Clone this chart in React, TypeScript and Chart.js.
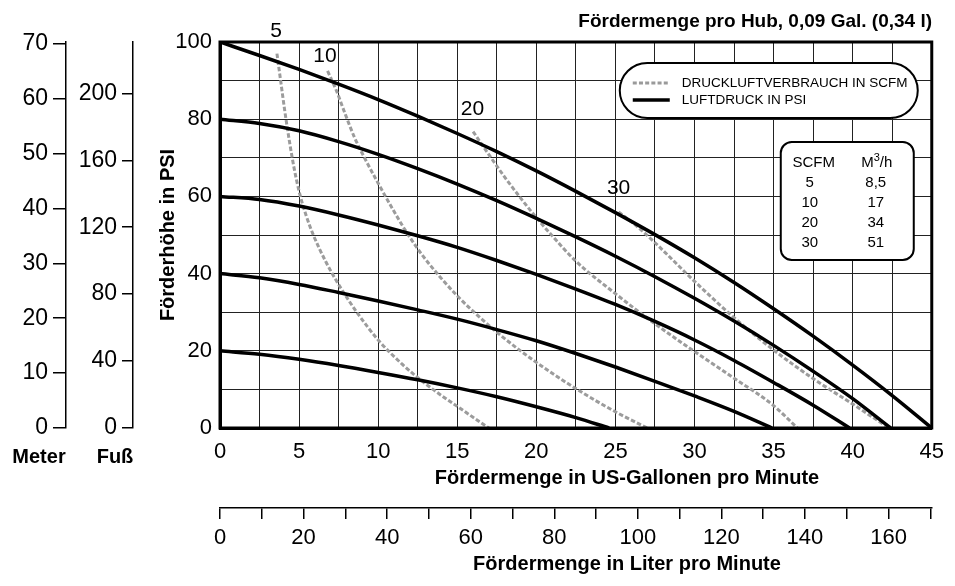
import React, { useEffect, useRef } from 'react';
import { Chart, registerables } from 'chart.js';

Chart.register(...registerables);

const SANS = '"Liberation Sans", Arial, Helvetica, sans-serif';
const NARROW = '"Liberation Sans Narrow", "Arial Narrow", "Liberation Sans", Arial, sans-serif';

// ---- Data: [gpm, psi] pairs ----
const psi100: number[][] = [[0, 100], [2.5, 96.5], [5, 92.9], [7.5, 89.1], [10, 85.1], [12.5, 80.8], [15, 76.3], [17.5, 71.6], [20, 66.6], [22.5, 61.3], [25, 55.8], [27.5, 50.1], [30, 44.1], [32.5, 37.7], [35, 30.9], [37.5, 23.8], [40, 16.3], [42.5, 8.4], [45, 0]];
const psi80: number[][] = [[0, 80], [2.5, 78.9], [5, 77], [7.5, 74.2], [10, 70.9], [12.5, 67.2], [15, 63.2], [17.5, 58.9], [20, 54.3], [22.5, 49.5], [25, 44.5], [27.5, 39.2], [30, 33.6], [32.5, 27.7], [35, 21.4], [37.5, 14.7], [40, 7.6], [42.4, 0]];
const psi60: number[][] = [[0, 60], [2.5, 59.2], [5, 57.5], [7.5, 55.2], [10, 52.6], [12.5, 49.8], [15, 46.8], [17.5, 43.4], [20, 39.8], [22.5, 36], [25, 32], [27.5, 27.6], [30, 22.8], [32.5, 17.5], [35, 11.8], [37.5, 5.9], [39.8, 0]];
const psi40: number[][] = [[0, 40], [2.5, 38.9], [5, 37.2], [7.5, 35.1], [10, 32.9], [12.5, 30.6], [15, 28.2], [17.5, 25.5], [20, 22.6], [22.5, 19.3], [25, 15.8], [27.5, 12.1], [30, 8.3], [32.5, 4.3], [34.9, 0]];
const psi20: number[][] = [[0, 20], [2.5, 19.1], [5, 17.8], [7.5, 16.2], [10, 14.4], [12.5, 12.5], [15, 10.4], [17.5, 8.1], [20, 5.5], [22.5, 2.7], [24.6, 0]];

const scfm5: number[][] = [[3.6, 97], [3.85, 89.5], [4.1, 82], [4.4, 74], [4.7, 67], [5.05, 60.5], [5.45, 55], [5.9, 50], [6.7, 43], [7.6, 36.5], [8.7, 29.7], [10, 22.8], [11.5, 16.6], [13.2, 10.8], [15, 5.6], [17, 0]];
const scfm10: number[][] = [[6.8, 92.5], [7.35, 87.5], [7.9, 81.5], [8.5, 75.3], [9.2, 69.5], [10, 63.4], [10.85, 57.2], [11.75, 51], [12.75, 45], [13.9, 39.2], [15.1, 33.8], [16.2, 29.5], [17.5, 24.8], [20, 17], [22.5, 10.2], [25, 4.2], [27, 0]];
const scfm20: number[][] = [[16, 76.8], [17, 70.8], [18, 65], [19, 59.6], [20, 54.5], [21, 49.8], [22.5, 43.2], [25, 34.8], [27.5, 27], [30, 19.8], [32.5, 12.9], [35, 5.8], [36.5, 0]];
const scfm30: number[][] = [[25.2, 56], [26.2, 52.8], [27.5, 48], [30, 38], [32.5, 28.6], [35, 20.2], [37.5, 12.8], [40, 6.2], [42.3, 0]];

const pressureCurves = [psi100, psi80, psi60, psi40, psi20];
const pressureNames = ['100 PSI', '80 PSI', '60 PSI', '40 PSI', '20 PSI'];
const airCurves = [scfm5, scfm10, scfm20, scfm30];
const airNames = ['5 SCFM', '10 SCFM', '20 SCFM', '30 SCFM'];

// curve labels (SCFM) in data coordinates
const scfmCurveLabels = ['5', '10', '20', '30'];
const scfmLabelGpm = [3.54, 6.64, 15.96, 25.2];
const scfmLabelPsi = [102.8, 96.4, 82.6, 62.2];

// table
const tableScfm = ['5', '10', '20', '30'];
const tableM3h = ['8,5', '17', '34', '51'];

// axes
const gpmMax = 45;
const psiMax = 100;
const GAL_TO_L = 3.78541;
const PSI_TO_M = 0.70307;
const PSI_TO_FT = 2.30666;

const chartTitle = 'Fördermenge pro Hub, 0,09 Gal. (0,34 l)';
const xTitle = 'Fördermenge in US-Gallonen pro Minute';
const literTitle = 'Fördermenge in Liter pro Minute';
const yTitle = 'Förderhöhe in PSI';
const meterLabel = 'Meter';
const feetLabel = 'Fuß';
const legendLabels = ['DRUCKLUFTVERBRAUCH IN SCFM', 'LUFTDRUCK IN PSI'];

function detectNarrow(): boolean {
  const c = document.createElement('canvas').getContext('2d');
  if (!c) return false;
  c.font = 'bold 40px monospace';
  const w0 = c.measureText('Meter Fuß abcdefg').width;
  c.font = 'bold 40px "Liberation Sans Narrow", monospace';
  const w1 = c.measureText('Meter Fuß abcdefg').width;
  return Math.abs(w0 - w1) > 1;
}

function roundRectPath(ctx: CanvasRenderingContext2D, x: number, y: number, w: number, h: number, r: number) {
  ctx.beginPath();
  ctx.moveTo(x + r, y);
  ctx.lineTo(x + w - r, y);
  ctx.arcTo(x + w, y, x + w, y + r, r);
  ctx.lineTo(x + w, y + h - r);
  ctx.arcTo(x + w, y + h, x + w - r, y + h, r);
  ctx.lineTo(x + r, y + h);
  ctx.arcTo(x, y + h, x, y + h - r, r);
  ctx.lineTo(x, y + r);
  ctx.arcTo(x, y, x + r, y, r);
  ctx.closePath();
}

export default function App() {
  const ref = useRef<HTMLCanvasElement>(null);

  useEffect(() => {
    const canvas = ref.current;
    if (!canvas) return;
    const narrow = detectNarrow();
    const boldFamily = narrow ? NARROW : SANS;
    const titleSize = narrow ? 24 : 20;
    const topSize = narrow ? 23 : 19;
    const lh = (s: number) => s * 1.2;

    Chart.defaults.color = '#000';
    Chart.defaults.font.family = SANS;

    const decorPlugin = {
      id: 'decor',
      afterDatasetsDraw(chart: any) {
        const { ctx, chartArea: ca, scales } = chart;
        const xs = scales.x;
        const ys = scales.y;
        ctx.save();
        // frame
        ctx.strokeStyle = '#000';
        ctx.lineWidth = 3;
        ctx.strokeRect(ca.left, ca.top, ca.right - ca.left, ca.bottom - ca.top);

        // curve labels
        ctx.fillStyle = '#000';
        ctx.font = `21px ${SANS}`;
        ctx.textAlign = 'center';
        ctx.textBaseline = 'middle';
        scfmCurveLabels.forEach((t, i) => {
          ctx.fillText(t, xs.getPixelForValue(scfmLabelGpm[i]), ys.getPixelForValue(scfmLabelPsi[i]));
        });

        // legend pill
        const L = { x: ca.right - 312, y: ca.top + 21, w: 298, h: 55 };
        roundRectPath(ctx, L.x, L.y, L.w, L.h, L.h / 2);
        ctx.fillStyle = '#fff';
        ctx.fill();
        ctx.lineWidth = 2;
        ctx.strokeStyle = '#000';
        ctx.stroke();
        ctx.beginPath();
        ctx.setLineDash([4, 2.2]);
        ctx.strokeStyle = '#9a9a9a';
        ctx.lineWidth = 3;
        ctx.moveTo(L.x + 13, L.y + 20);
        ctx.lineTo(L.x + 50, L.y + 20);
        ctx.stroke();
        ctx.setLineDash([]);
        ctx.beginPath();
        ctx.strokeStyle = '#000';
        ctx.lineWidth = 3.5;
        ctx.moveTo(L.x + 13, L.y + 37);
        ctx.lineTo(L.x + 50, L.y + 37);
        ctx.stroke();
        ctx.fillStyle = '#000';
        ctx.font = `13.5px ${SANS}`;
        ctx.textAlign = 'left';
        ctx.fillText(legendLabels[0], L.x + 62, L.y + 20);
        ctx.fillText(legendLabels[1], L.x + 62, L.y + 37);

        // table box
        const T = { x: ca.right - 151, y: ca.top + 100, w: 133, h: 118 };
        roundRectPath(ctx, T.x, T.y, T.w, T.h, 11);
        ctx.fillStyle = '#fff';
        ctx.fill();
        ctx.lineWidth = 2;
        ctx.strokeStyle = '#000';
        ctx.stroke();
        ctx.fillStyle = '#000';
        ctx.textAlign = 'center';
        ctx.font = `15px ${SANS}`;
        ctx.fillText('SCFM', T.x + 33, T.y + 21);
        const wM = ctx.measureText('M').width;
        const wH = ctx.measureText('/h').width;
        ctx.font = `11px ${SANS}`;
        const w3 = ctx.measureText('3').width;
        const total = wM + w3 + wH;
        let cx = T.x + 96 - total / 2;
        ctx.textAlign = 'left';
        ctx.font = `15px ${SANS}`;
        ctx.fillText('M', cx, T.y + 21);
        cx += wM;
        ctx.font = `11px ${SANS}`;
        ctx.fillText('3', cx, T.y + 16);
        cx += w3;
        ctx.font = `15px ${SANS}`;
        ctx.fillText('/h', cx, T.y + 21);
        ctx.textAlign = 'center';
        tableScfm.forEach((t, i) => {
          ctx.fillText(t, T.x + 29, T.y + 41 + 20 * i);
          ctx.fillText(tableM3h[i], T.x + 95, T.y + 41 + 20 * i);
        });

        // axis titles for the bottom axes (centred like the original)
        ctx.font = `bold ${titleSize}px ${boldFamily}`;
        ctx.textAlign = 'center';
        ctx.fillText(xTitle, ca.left + 407, ca.bottom + 50);
        ctx.fillText(literTitle, ca.left + 407, ca.bottom + 136);

        // unit labels under the left axes
        ctx.fillText(meterLabel, scales.meter.right - 27, ca.bottom + 29);
        ctx.fillText(feetLabel, scales.feet.right - 18, ca.bottom + 29);
        ctx.restore();
      },
    };

    const datasets: any[] = [];
    pressureCurves.forEach((c, i) => {
      datasets.push({
        label: pressureNames[i],
        data: c.map(([x, y]) => ({ x, y })),
        borderColor: '#000',
        borderWidth: 3.5,
        pointRadius: 0,
        fill: false,
        cubicInterpolationMode: 'monotone',
        xAxisID: 'x',
        yAxisID: 'y',
      });
    });
    airCurves.forEach((c, i) => {
      datasets.push({
        label: airNames[i],
        data: c.map(([x, y]) => ({ x, y })),
        borderColor: '#9c9c9c',
        borderWidth: 3,
        borderDash: [4.5, 2.2],
        pointRadius: 0,
        fill: false,
        cubicInterpolationMode: 'monotone',
        xAxisID: 'x',
        yAxisID: 'y',
      });
    });

    const tickFont = { family: SANS, size: 22 };
    const sideFont = { family: SANS, size: 23 };
    const bold = (s: number) => ({ family: boldFamily, size: s, weight: 'bold' as const });

    const chart = new Chart(canvas, {
      type: 'line',
      data: { datasets },
      plugins: [decorPlugin],
      options: {
        animation: false,
        responsive: false,
        devicePixelRatio: 1,
        events: [],
        layout: { padding: { left: 0, right: 23, top: 0, bottom: 0 } },
        plugins: {
          legend: { display: false },
          tooltip: { enabled: false },
          title: {
            display: true,
            text: chartTitle,
            align: 'end',
            color: '#000',
            font: bold(topSize),
            padding: { top: 22 - lh(topSize) / 2, bottom: 42 - (22 - lh(topSize) / 2) - lh(topSize) },
          },
        },
        scales: {
          x: {
            type: 'linear',
            position: 'bottom',
            weight: 0,
            min: 0,
            max: gpmMax,
            afterFit: (s: any) => { s.height = 80; },
            ticks: {
              stepSize: 2.5,
              autoSkip: false,
              maxRotation: 0,
              minRotation: 0,
              padding: 11,
              font: tickFont,
              color: '#000',
              callback: (v: any) => (Number(v) % 5 === 0 ? String(v) : ''),
            },
            grid: { color: '#222', lineWidth: 1, drawTicks: false },
            border: { display: true, color: '#000', width: 3 },
            title: { display: false },
          },
          liter: {
            type: 'linear',
            position: 'bottom',
            weight: 1,
            min: 0,
            max: gpmMax * GAL_TO_L,
            afterFit: (s: any) => { s.height = 78; },
            ticks: {
              stepSize: 10,
              includeBounds: false,
              autoSkip: false,
              maxRotation: 0,
              minRotation: 0,
              padding: 6,
              font: tickFont,
              color: '#000',
              callback: (v: any) => (Number(v) % 20 === 0 ? String(v) : ''),
            },
            grid: { drawOnChartArea: false, drawTicks: true, tickLength: 11, color: '#000', lineWidth: 1.5 },
            border: { display: true, color: '#000', width: 1.5 },
            title: { display: false },
          },
          y: {
            type: 'linear',
            position: 'left',
            weight: 0,
            min: 0,
            max: psiMax,
            afterFit: (s: any) => { s.width = 87; },
            ticks: {
              stepSize: 10,
              padding: 8,
              font: tickFont,
              color: '#000',
              callback: (v: any) => (Number(v) % 20 === 0 ? String(v) : ''),
            },
            grid: { color: '#222', lineWidth: 1, drawTicks: false },
            border: { display: true, color: '#000', width: 3 },
            title: { display: true, text: yTitle, color: '#000', font: bold(titleSize), padding: { top: 35 - lh(titleSize) / 2, bottom: 0 } },
          },
          feet: {
            type: 'linear',
            position: 'left',
            weight: 1,
            min: 0,
            max: psiMax * PSI_TO_FT,
            afterFit: (s: any) => { s.width = 67; },
            ticks: { stepSize: 40, includeBounds: false, padding: 5, font: sideFont, color: '#000' },
            grid: { drawOnChartArea: false, drawTicks: true, tickLength: 11, color: '#000', lineWidth: 1.5 },
            border: { display: true, color: '#000', width: 1.5 },
          },
          meter: {
            type: 'linear',
            position: 'left',
            weight: 2,
            min: 0,
            max: psiMax * PSI_TO_M,
            afterFit: (s: any) => { s.width = 66; },
            ticks: { stepSize: 10, includeBounds: false, padding: 5, font: sideFont, color: '#000' },
            grid: { drawOnChartArea: false, drawTicks: true, tickLength: 13, color: '#000', lineWidth: 1.5 },
            border: { display: true, color: '#000', width: 1.5 },
          },
        },
      } as any,
    });
    return () => chart.destroy();
  }, []);

  return (
    <div style={{ position: 'absolute', left: 0, top: 0, width: 955, height: 586, background: '#fff' }}>
      <canvas ref={ref} width={955} height={586} style={{ display: 'block', width: 955, height: 586 }} />
    </div>
  );
}
